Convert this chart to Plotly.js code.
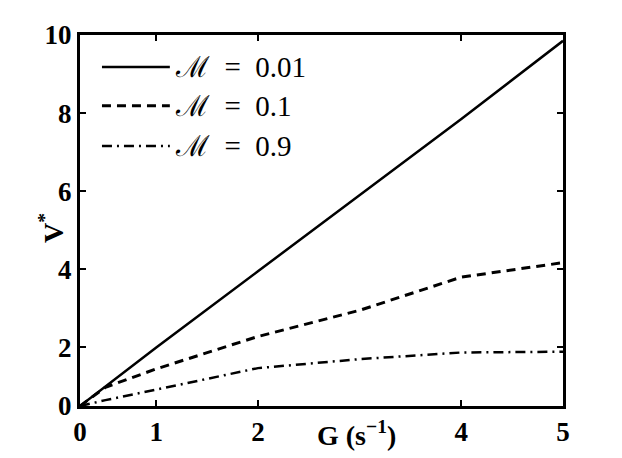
<!DOCTYPE html>
<html>
<head>
<meta charset="utf-8">
<script src="https://cdn.plot.ly/plotly-3.0.1.min.js"></script>
<style>
  html, body { margin: 0; padding: 0; background: #fff; }
  #chart { width: 622px; height: 458px; }
</style>
</head>
<body>
<div id="chart"></div>
<script>
// G values (s^-1) and V* for each M; the axes start at 0.25 / 0.5 but are labelled "0"
const G       = [0.25, 0.5, 1, 2, 3, 4, 5];
const vM001   = [0.5, 1.0, 2.0, 3.95, 5.9, 7.85, 9.85];
const vM01    = [0.5, 0.98, 1.45, 2.28, 2.95, 3.8, 4.17];
const vM09    = [0.5, 0.65, 0.92, 1.47, 1.7, 1.87, 1.89];
const names   = ['\u2133 = 0.01', '\u2133 = 0.1', '\u2133 = 0.9'];

const xTickVals = [0.25, 1, 2, 4, 5];
const xTickText = ['0', '1', '2', '4', '5'];
const yTickVals = [0.5, 2, 4, 6, 8, 10];
const yTickText = ['0', '2', '4', '6', '8', '10'];

const TICK_FONT  = { family: 'Liberation Serif, Times New Roman, serif', size: 27, color: '#000', weight: 'bold' };
const LABEL_FONT = { family: 'Liberation Serif, Times New Roman, serif', size: 28, color: '#000', weight: 'bold' };
const LEG_FONT   = { family: 'Liberation Serif, DejaVu Serif, serif', size: 29, color: '#000' };

const STYLES = [
    { color: '#000', width: 2.5, dash: 'solid' },
    { color: '#000', width: 3,   dash: '9px,6px' },
    { color: '#000', width: 2.5, dash: '10px,5px,2px,5px' },
];

const traces = [vM001, vM01, vM09].map((v, i) => ({
    x: G, y: v, name: names[i], type: 'scatter', mode: 'lines', line: STYLES[i],
}));

// legend drawn by hand so the sample lines are as long as in the original
const legRows = [0.914, 0.809, 0.701];
const shapes = legRows.map((y, i) => ({
    type: 'line', xref: 'paper', yref: 'paper', x0: 0.0455, x1: 0.186, y0: y, y1: y,
    line: STYLES[i],
}));
const legendNotes = legRows.map((y, i) => ({
    text: names[i].replace(' = ', '\u2002=\u2002'), showarrow: false, xref: 'paper', yref: 'paper',
    x: 0.193, y: y, xanchor: 'left', yanchor: 'middle', font: LEG_FONT,
}));

const axisCommon = {
    showgrid: false,
    zeroline: false,
    showline: true,
    linecolor: '#000',
    linewidth: 3,
    mirror: 'allticks',
    ticks: 'inside',
    ticklen: 6,
    tickwidth: 2,
    tickcolor: '#000',
    tickfont: TICK_FONT,
};

const layout = {
    width: 622,
    height: 458,
    paper_bgcolor: '#fff',
    plot_bgcolor: '#fff',
    margin: { l: 80, r: 59, t: 35, b: 52 },
    showlegend: false,
    xaxis: { ...axisCommon, range: [0.25, 5], tickmode: 'array', tickvals: xTickVals, ticktext: xTickText },
    yaxis: { ...axisCommon, range: [0.5, 10], tickmode: 'array', tickvals: yTickVals, ticktext: yTickText },
    shapes,
    annotations: [
        ...legendNotes,
        { text: 'G (s<sup>\u22121</sup>)', showarrow: false, xref: 'paper', yref: 'paper',
          x: 0.573, y: -0.075, xanchor: 'center', yanchor: 'middle', font: LABEL_FONT },
        { text: 'V<sup>*</sup>', showarrow: false, xref: 'paper', yref: 'paper', textangle: -90,
          x: -0.058, y: 0.48, xanchor: 'center', yanchor: 'middle', font: LABEL_FONT },
    ],
};

Plotly.newPlot('chart', traces, layout, { displayModeBar: false, staticPlot: true });
</script>
</body>
</html>
